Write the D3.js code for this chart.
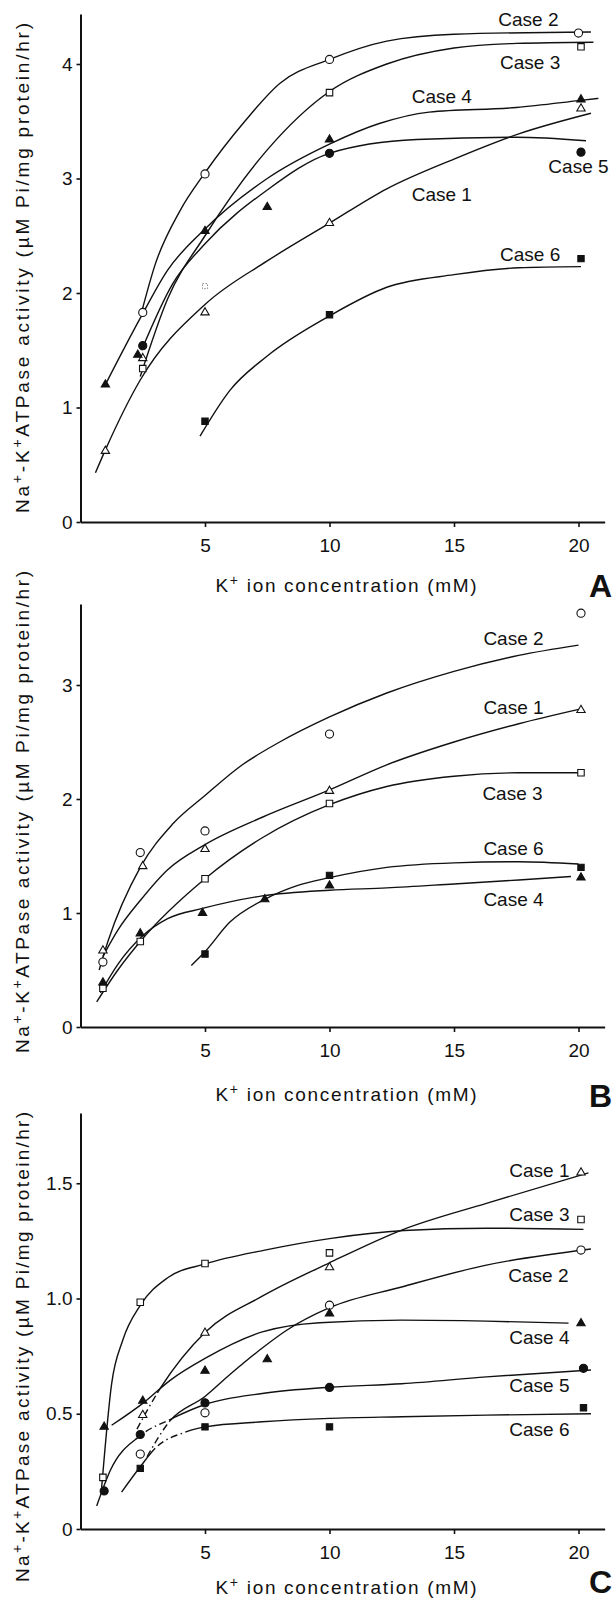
<!DOCTYPE html>
<html>
<head>
<meta charset="utf-8">
<script src="https://cdn.jsdelivr.net/npm/d3@7"></script>
<style>
  body { margin: 0; background: #fff; }
  svg text { font-family: "Liberation Sans", Arial, sans-serif; fill: #111; }
</style>
</head>
<body>
<div id="chart"></div>
<script>
// tick values
var xTicks = [5, 10, 15, 20];
var yTicksA = [0, 1, 2, 3, 4];
var yTicksB = [0, 1, 2, 3];
var yTicksC = [0, 0.5, 1.0, 1.5];

// ---- Panel A : measured points [K+ mM, activity]
var a1Pts = [[1, 0.62], [2.5, 1.43], [5, 1.83], [10, 2.61], [20.1, 3.61]];
var a2Pts = [[2.5, 1.83], [5, 3.04], [10, 4.04], [20, 4.27]];
var a3Pts = [[2.5, 1.34], [10, 3.75], [20.1, 4.15]];
var a3Faint = [[5, 2.06]];
var a4Pts = [[1, 1.2], [2.3, 1.46], [5, 2.54], [7.5, 2.75], [10, 3.34], [20.1, 3.69]];
var a5Pts = [[2.5, 1.54], [10, 3.22], [20.1, 3.23]];
var a6Pts = [[5, 0.88], [10, 1.81], [20.1, 2.3]];
// ---- Panel A : drawn curves
var a1Fit = [[0.6, 0.43], [1, 0.63], [2.4, 1.24], [5, 1.9], [7.5, 2.28], [10, 2.61], [12.3, 2.91], [15, 3.17], [17.6, 3.39], [20.5, 3.57]];
var a2Fit = [[2.45, 1.83], [3, 2.25], [4, 2.72], [5, 3.05], [6.6, 3.5], [8, 3.83], [10, 4.04], [12.3, 4.2], [15, 4.26], [20.5, 4.28]];
var a3Fit = [[2.4, 1.27], [3.5, 1.95], [5, 2.5], [7.5, 3.25], [10, 3.76], [12.3, 4.0], [15, 4.14], [17.5, 4.18], [20.6, 4.19]];
var a4Fit = [[1, 1.2], [2.4, 1.78], [3.5, 2.2], [5, 2.56], [7.5, 3.0], [10, 3.3], [12, 3.48], [14, 3.58], [17.5, 3.62], [20, 3.68], [20.8, 3.7]];
var a5Fit = [[2.45, 1.5], [3.7, 2.08], [5, 2.43], [7.5, 2.9], [10, 3.22], [13.5, 3.34], [17.5, 3.36], [20.3, 3.33]];
var a6Fit = [[4.8, 0.75], [6, 1.15], [7.5, 1.45], [10, 1.8], [12.3, 2.05], [15, 2.16], [17.6, 2.22], [20.1, 2.23]];

// ---- Panel B : measured points
var b1Pts = [[0.9, 0.67], [2.5, 1.41], [5, 1.56], [10, 2.07], [20.1, 2.78]];
var b2Pts = [[0.9, 0.57], [2.4, 1.53], [5, 1.72], [10, 2.57], [20.1, 3.63]];
var b3Pts = [[0.9, 0.34], [2.4, 0.75], [5, 1.3], [10, 1.96], [20.1, 2.23]];
var b4Pts = [[0.9, 0.39], [2.4, 0.82], [4.9, 1.0], [7.4, 1.12], [10, 1.24], [20.1, 1.31]];
var b6Pts = [[5, 0.64], [10, 1.33], [20.1, 1.4]];
// ---- Panel B : drawn curves
var b1Fit = [[0.9, 0.62], [1.5, 0.85], [2.4, 1.11], [3.5, 1.38], [5, 1.6], [7.3, 1.84], [10, 2.08], [12.3, 2.3], [15, 2.5], [17.6, 2.66], [20.1, 2.79]];
var b2Fit = [[0.75, 0.5], [1.1, 0.75], [2.4, 1.4], [3.7, 1.78], [5, 2.03], [6.5, 2.3], [8, 2.5], [10, 2.72], [12.3, 2.93], [15, 3.12], [17.6, 3.26], [20, 3.35]];
var b3Fit = [[0.65, 0.22], [1.5, 0.5], [2.4, 0.75], [5, 1.3], [7.3, 1.66], [10, 1.95], [12.3, 2.11], [15, 2.2], [17.6, 2.23], [20.1, 2.23]];
var b4Fit = [[0.8, 0.3], [1.5, 0.55], [2.5, 0.8], [3.5, 0.95], [4.9, 1.04], [7.3, 1.15], [10, 1.2], [12.3, 1.22], [15, 1.255], [17.6, 1.29], [19.7, 1.32]];
var b6Fit = [[4.45, 0.54], [5, 0.66], [6, 0.92], [7.4, 1.12], [8.7, 1.24], [10, 1.31], [12.3, 1.4], [15, 1.44], [17.6, 1.45], [20, 1.43]];

// ---- Panel C : measured points
var c1Pts = [[2.5, 0.494], [5, 0.851], [10, 1.135], [20.1, 1.546]];
var c2Pts = [[2.4, 0.325], [5, 0.504], [10, 0.971], [20.1, 1.21]];
var c3Pts = [[0.9, 0.224], [2.4, 0.984], [5, 1.152], [10, 1.198], [20.1, 1.343]];
var c4Pts = [[0.95, 0.443], [2.5, 0.556], [5, 0.686], [7.5, 0.736], [10, 0.935], [20.1, 0.892]];
var c5Pts = [[0.95, 0.165], [2.4, 0.41], [5, 0.547], [10, 0.614], [20.2, 0.697]];
var c6Pts = [[2.4, 0.263], [5, 0.443], [10, 0.443], [20.2, 0.526]];
// ---- Panel C : drawn curves
var c1Fit = [[2.2, 0.42], [3.2, 0.61], [5, 0.853], [7.3, 1.01], [10, 1.155], [12.9, 1.297], [16.3, 1.413], [20.4, 1.545]];
var c2Fit = [[2.6, 0.3], [3.6, 0.47], [5, 0.575], [6, 0.67], [7.3, 0.785], [8.25, 0.86], [10, 0.96], [12.9, 1.05], [16.3, 1.145], [20.5, 1.215]];
var c3Fit = [[0.85, 0.18], [1.25, 0.63], [1.7, 0.82], [2.4, 0.97], [3.5, 1.09], [5, 1.15], [7.4, 1.21], [10, 1.26], [13, 1.295], [16.3, 1.305], [20.2, 1.3]];
var c4Fit = [[1.25, 0.45], [2.5, 0.545], [3.6, 0.645], [5, 0.74], [7.3, 0.855], [9.6, 0.895], [12.9, 0.906], [16.3, 0.902], [19.6, 0.893]];
var c5Fit = [[0.65, 0.1], [1.2, 0.255], [2.4, 0.405], [3.6, 0.475], [5, 0.54], [7.3, 0.588], [10, 0.615], [12.9, 0.63], [16.3, 0.66], [20.5, 0.69]];
var c6Fit = [[1.65, 0.16], [2.4, 0.27], [3.0, 0.35], [4.2, 0.42], [5, 0.443], [7.3, 0.465], [10, 0.48], [12.9, 0.487], [16.3, 0.494], [20.5, 0.5]];

// marker look for each case
var caseStyle = {
  "Case 1": { type: d3.symbolTriangle, size: 30, filled: false },
  "Case 2": { type: d3.symbolCircle, size: 52, filled: false },
  "Case 3": { type: d3.symbolSquare, size: 42, filled: false },
  "Case 4": { type: d3.symbolTriangle, size: 30, filled: true },
  "Case 5": { type: d3.symbolCircle, size: 52, filled: true },
  "Case 6": { type: d3.symbolSquare, size: 40, filled: true }
};

// layout of the three stacked panels (pixels) + label anchors (data units)
var panels = [
  { letter: "A", y0: 522, unit: 114.5, top: 14, ticks: yTicksA, fmt: d3.format("d"),
    xTitleY: 592, letterY: 597, yTitleC: 268, yTitleLen: 490,
    series: [
      { name: "Case 1", pts: a1Pts, fit: a1Fit, lx: 13.3, ly: 2.80 },
      { name: "Case 2", pts: a2Pts, fit: a2Fit, lx: 16.78, ly: 4.33 },
      { name: "Case 3", pts: a3Pts, fit: a3Fit, lx: 16.85, ly: 3.956, faint: a3Faint },
      { name: "Case 4", pts: a4Pts, fit: a4Fit, lx: 13.3, ly: 3.66 },
      { name: "Case 5", pts: a5Pts, fit: a5Fit, lx: 18.79, ly: 3.048 },
      { name: "Case 6", pts: a6Pts, fit: a6Fit, lx: 16.85, ly: 2.28 }
    ] },
  { letter: "B", y0: 1027, unit: 114, top: 604, ticks: yTicksB, fmt: d3.format("d"),
    xTitleY: 1101, letterY: 1107, yTitleC: 812, yTitleLen: 482,
    series: [
      { name: "Case 1", pts: b1Pts, fit: b1Fit, lx: 16.18, ly: 2.75 },
      { name: "Case 2", pts: b2Pts, fit: b2Fit, lx: 16.18, ly: 3.35 },
      { name: "Case 3", pts: b3Pts, fit: b3Fit, lx: 16.14, ly: 1.99 },
      { name: "Case 4", pts: b4Pts, fit: b4Fit, lx: 16.18, ly: 1.06 },
      { name: "Case 6", pts: b6Pts, fit: b6Fit, lx: 16.18, ly: 1.51 }
    ] },
  { letter: "C", y0: 1529, unit: 230.5, top: 1113, ticks: yTicksC, fmt: function(d) { return d === 0 ? "0" : d3.format(".1f")(d); },
    xTitleY: 1594, letterY: 1593, yTitleC: 1347, yTitleLen: 470,
    series: [
      { name: "Case 1", pts: c1Pts, fit: c1Fit, lx: 17.22, ly: 1.528, dash: [2.2, 3.1] },
      { name: "Case 2", pts: c2Pts, fit: c2Fit, lx: 17.18, ly: 1.073, dash: [2.6, 3.6] },
      { name: "Case 3", pts: c3Pts, fit: c3Fit, lx: 17.22, ly: 1.338 },
      { name: "Case 4", pts: c4Pts, fit: c4Fit, lx: 17.22, ly: 0.803 },
      { name: "Case 5", pts: c5Pts, fit: c5Fit, lx: 17.22, ly: 0.596, dash: [2.5, 3.5] },
      { name: "Case 6", pts: c6Pts, fit: c6Fit, lx: 17.22, ly: 0.403, dash: [3.0, 4.2] }
    ] }
];

var width = 614, height = 1602;
var xLeft = 80.5, xUnit = 24.9, xMaxAxis = 21.05;

var svg = d3.select("#chart")
  .append("svg")
  .attr("width", width)
  .attr("height", height);

var x = d3.scaleLinear()
  .domain([0, xMaxAxis])
  .range([xLeft, xLeft + xMaxAxis * xUnit]);

// solid line with a dash-dot stretch between two x values
function dashArray(node, x1, x2) {
  var total = node.getTotalLength();
  function lenAt(xv) {
    var lo = 0, hi = total;
    for (var i = 0; i < 30; i++) {
      var mid = (lo + hi) / 2;
      if (node.getPointAtLength(mid).x < x(xv)) lo = mid; else hi = mid;
    }
    return lo;
  }
  var L1 = lenAt(x1), L2 = lenAt(x2);
  var arr = [L1], pos = L1, pat = [3.5, 7, 3.5, 1.5], k = 0;
  while (pos < L2) {
    arr.push(pat[k % 4]);
    pos += pat[k % 4];
    k++;
  }
  if (k % 2 === 1) arr.push(6);
  arr.push(0, total);
  return arr.join(",");
}

panels.forEach(function(p) {
  var yMax = (p.y0 - p.top) / p.unit;
  var y = d3.scaleLinear().domain([0, yMax]).range([p.y0, p.top]);
  var g = svg.append("g");

  // y axis
  var ya = g.append("g")
    .attr("transform", "translate(" + xLeft + ",0)")
    .call(d3.axisLeft(y).tickValues(p.ticks).tickFormat(p.fmt).tickSize(4).tickPadding(4).tickSizeOuter(0));
  // x axis
  var xa = g.append("g")
    .attr("transform", "translate(0," + p.y0 + ")")
    .call(d3.axisBottom(x).tickValues(xTicks).tickSize(5).tickPadding(12).tickSizeOuter(0));

  [ya, xa].forEach(function(a) {
    a.select(".domain").attr("stroke", "#111").attr("stroke-width", 2);
    a.selectAll(".tick line").attr("stroke", "#111").attr("stroke-width", 1.6);
    a.selectAll(".tick text")
      .style("font-family", "'Liberation Sans', Arial, sans-serif")
      .attr("font-size", 19)
      .attr("fill", "#111");
  });

  // axis titles
  var xt = g.append("text")
    .attr("x", 346)
    .attr("y", p.xTitleY)
    .attr("text-anchor", "middle")
    .attr("font-size", 19)
    .attr("textLength", 261)
    .attr("lengthAdjust", "spacing");
  xt.append("tspan").text("K");
  xt.append("tspan").attr("dy", -7).attr("font-size", 14).text("+");
  xt.append("tspan").attr("dy", 7).text(" ion concentration (mM)");

  var yt = g.append("text")
    .attr("transform", "translate(28.5," + p.yTitleC + ") rotate(-90)")
    .attr("text-anchor", "middle")
    .attr("font-size", 19)
    .attr("textLength", p.yTitleLen)
    .attr("lengthAdjust", "spacing");
  yt.append("tspan").text("Na");
  yt.append("tspan").attr("dy", -7).attr("font-size", 14).text("+");
  yt.append("tspan").attr("dy", 7).text("-K");
  yt.append("tspan").attr("dy", -7).attr("font-size", 14).text("+");
  yt.append("tspan").attr("dy", 7).text("ATPase activity (\u00b5M Pi/mg protein/hr)");

  // panel letter
  g.append("text")
    .attr("x", 589)
    .attr("y", p.letterY)
    .attr("font-size", 32)
    .attr("font-weight", "bold")
    .text(p.letter);

  var line = d3.line()
    .x(function(d) { return x(d[0]); })
    .y(function(d) { return y(d[1]); })
    .curve(d3.curveMonotoneX);

  // fitted curves
  p.series.forEach(function(s) {
    var path = g.append("path")
      .datum(s.fit)
      .attr("fill", "none")
      .attr("stroke", "#111")
      .attr("stroke-width", 1.4)
      .attr("d", line);
    if (s.dash) path.attr("stroke-dasharray", dashArray(path.node(), s.dash[0], s.dash[1]));
  });

  // markers
  p.series.forEach(function(s) {
    var st = caseStyle[s.name];
    var sym = d3.symbol().type(st.type).size(st.size);
    g.selectAll(null)
      .data(s.pts)
      .join("path")
      .attr("transform", function(d) { return "translate(" + x(d[0]) + "," + y(d[1]) + ")"; })
      .attr("d", sym)
      .attr("fill", st.filled ? "#111" : "#fff")
      .attr("stroke", "#111")
      .attr("stroke-width", 1.1);
    if (s.faint) {
      g.selectAll(null)
        .data(s.faint)
        .join("path")
        .attr("transform", function(d) { return "translate(" + x(d[0]) + "," + y(d[1]) + ")"; })
        .attr("d", d3.symbol().type(st.type).size(26))
        .attr("fill", "#fff")
        .attr("stroke", "#777")
        .attr("stroke-width", 0.9)
        .attr("stroke-dasharray", "1.5,1.5");
    }
    // case label
    g.append("text")
      .attr("x", x(s.lx))
      .attr("y", y(s.ly))
      .attr("font-size", 19)
      .text(s.name);
  });
});
</script>
</body>
</html>
